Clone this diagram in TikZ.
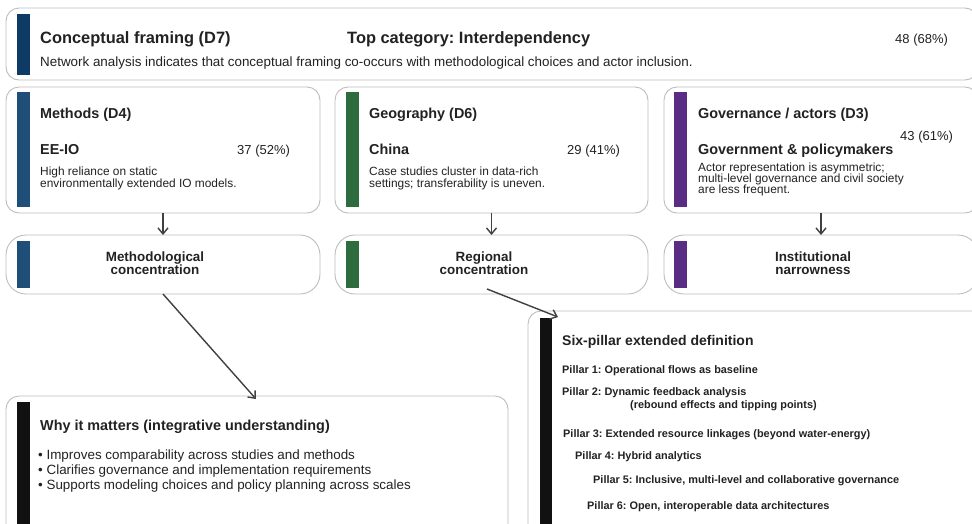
\documentclass[tikz,border=0pt]{standalone}
\usepackage{fontspec}
\setmainfont{Liberation Sans}
\usetikzlibrary{arrows.meta}
\definecolor{bordergray}{HTML}{BDBDBD}
\definecolor{txt}{HTML}{222222}
\definecolor{navy}{HTML}{0E3A66}
\definecolor{methblue}{HTML}{1F4E79}
\definecolor{geogreen}{HTML}{2E6B3F}
\definecolor{govpurple}{HTML}{5B2C83}
\definecolor{barblack}{HTML}{111111}
\definecolor{arrowgray}{HTML}{404040}
\frenchspacing
\begin{document}
\begin{tikzpicture}[x=1pt,y=-1pt,
  panel/.style={draw=bordergray, line width=0.9pt, fill=white, rounded corners=13pt, anchor=north west, inner sep=0pt, outer sep=0pt},
  pill/.style={draw=bordergray, line width=0.9pt, fill=white, rounded corners=20pt, anchor=north west, inner sep=0pt, outer sep=0pt},
  bar/.style={fill=#1, draw=none},
  lbl/.style={anchor=base west, inner sep=0pt, text=txt},
  clbl/.style={anchor=base, inner sep=0pt, text=txt, font=\fontsize{13.4}{15}\selectfont\bfseries},
  bigt/.style={lbl, font=\fontsize{16.4}{19}\selectfont\bfseries},
  midt/.style={lbl, font=\fontsize{14.4}{17}\selectfont\bfseries},
  num/.style={lbl, font=\fontsize{13}{15}\selectfont},
  desc/.style={lbl, font=\fontsize{11.9}{14}\selectfont},
  bul/.style={lbl, font=\fontsize{13.4}{15}\selectfont},
  pil/.style={lbl, font=\fontsize{10.9}{13}\selectfont\bfseries},
  conn/.style={draw=arrowgray, line width=1.4pt, -{Straight Barb[length=6pt,width=10pt]}}
]
\useasboundingbox (0,0) rectangle (972,523);
\clip (0,0) rectangle (972,523);

% ---------- top box ----------
\node[panel, minimum width=972pt, minimum height=72pt] (top) at (6,8) {};
\fill[bar=navy] (17,14) rectangle (30,75);
\node[bigt] (toptitle) at (40,43) {Conceptual framing (D7)};
\node[bigt] (topcat) at (347,43) {Top category: Interdependency};
\node[num] (topnum) at (895,43) {48 (68\%)};
\node[lbl, font=\fontsize{13.4}{15}\selectfont] (topdesc) at (40,66) {Network analysis indicates that conceptual framing co-occurs with methodological choices and actor inclusion.};

% ---------- methods ----------
\node[panel, minimum width=314pt, minimum height=126pt] (meth) at (6,87) {};
\fill[bar=methblue] (17,92) rectangle (30,207);
\node[midt] (methtitle) at (40,118) {Methods (D4)};
\node[midt] (methsub) at (40,154) {EE-IO};
\node[num] (methnum) at (237,154) {37 (52\%)};
\node[desc] (methd1) at (40,175) {High reliance on static};
\node[desc] (methd2) at (40,187.7) {environmentally extended IO models.};

\node[pill, minimum width=314pt, minimum height=59pt] (methc) at (6,235) {};
\fill[bar=methblue] (17,241) rectangle (30,288);
\node[clbl] (methc1) at (155,261) {Methodological};
\node[clbl] (methc2) at (155,274) {concentration};

% ---------- geography ----------
\node[panel, minimum width=313pt, minimum height=126pt] (geo) at (335,87) {};
\fill[bar=geogreen] (346,92) rectangle (359,207);
\node[midt] (geotitle) at (369,118) {Geography (D6)};
\node[midt] (geosub) at (369,154) {China};
\node[num] (geonum) at (567,154) {29 (41\%)};
\node[desc] (geod1) at (369,175) {Case studies cluster in data-rich};
\node[desc] (geod2) at (369,187.7) {settings; transferability is uneven.};

\node[pill, minimum width=313pt, minimum height=59pt] (geoc) at (335,235) {};
\fill[bar=geogreen] (346,241) rectangle (359,288);
\node[clbl] (geoc1) at (484,261) {Regional};
\node[clbl] (geoc2) at (484,274) {concentration};

% ---------- governance ----------
\node[panel, minimum width=314pt, minimum height=126pt] (gov) at (664,87) {};
\fill[bar=govpurple] (674,92) rectangle (687,207);
\node[midt] (govtitle) at (698,118) {Governance / actors (D3)};
\node[num] (govnum) at (900,140) {43 (61\%)};
\node[midt] (govsub) at (698,154) {Government \& policymakers};
\node[desc] (govd1) at (698,171) {Actor representation is asymmetric;};
\node[desc] (govd2) at (698,182.3) {multi-level governance and civil society};
\node[desc] (govd3) at (698,193.8) {are less frequent.};

\node[pill, minimum width=314pt, minimum height=59pt] (govc) at (664,235) {};
\fill[bar=govpurple] (674,241) rectangle (687,288);
\node[clbl] (govc1) at (813,261) {Institutional};
\node[clbl] (govc2) at (813,274) {narrowness};

% ---------- why it matters ----------
\node[panel, minimum width=502pt, minimum height=150pt] (why) at (6,396) {};
\fill[bar=barblack] (17,402) rectangle (30,540);
\node[midt] (whytitle) at (40,430) {Why it matters (integrative understanding)};
\node[bul] (whyb1) at (38,459) {• Improves comparability across studies and methods};
\node[bul] (whyb2) at (38,474) {• Clarifies governance and implementation requirements};
\node[bul] (whyb3) at (38,489) {• Supports modeling choices and policy planning across scales};

% ---------- six pillar ----------
\node[panel, minimum width=460pt, minimum height=240pt] (six) at (528,311) {};
\fill[bar=barblack] (540,318) rectangle (552,540);
\node[lbl, font=\fontsize{14}{17}\selectfont\bfseries] (sixtitle) at (562,345) {Six-pillar extended definition};
\node[pil] (p1) at (562,373) {Pillar 1: Operational flows as baseline};
\node[pil] (p2) at (562,395) {Pillar 2: Dynamic feedback analysis};
\node[pil] (p2b) at (630,408) {(rebound effects and tipping points)};
\node[pil] (p3) at (563,437) {Pillar 3: Extended resource linkages (beyond water-energy)};
\node[pil] (p4) at (575,459) {Pillar 4: Hybrid analytics};
\node[pil] (p5) at (593,483) {Pillar 5: Inclusive, multi-level and collaborative governance};
\node[pil] (p6) at (587,509) {Pillar 6: Open, interoperable data architectures};

% ---------- connectors ----------
\coordinate (whyin) at (256,399);
\coordinate (geoout) at (487,289);
\coordinate (sixin) at (558,317);
\draw[conn] (meth.south) -- (methc.north);
\draw[conn] (geo.south) -- (geoc.north);
\draw[conn] (gov.south) -- (govc.north);
\draw[conn] (methc.south) -- (whyin);
\draw[conn] (geoout) -- (sixin);
\end{tikzpicture}
\end{document}
